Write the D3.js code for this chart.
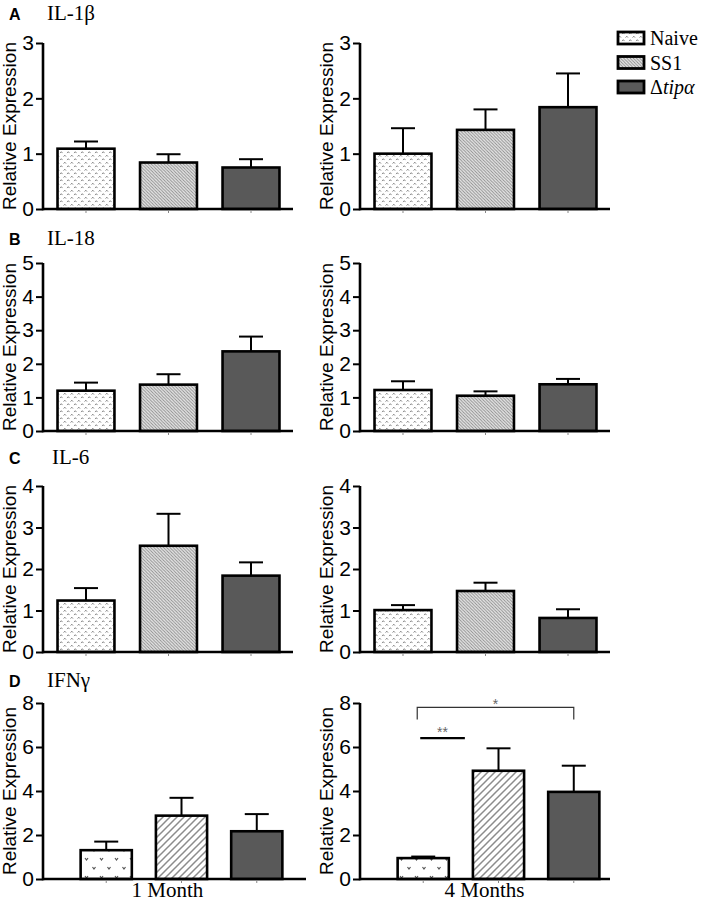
<!DOCTYPE html>
<html>
<head>
<meta charset="utf-8">
<script src="https://cdn.jsdelivr.net/npm/d3@7"></script>
<style>
  body { margin: 0; background: #fff; }
  svg { display: block; }
</style>
</head>
<body>
<svg id="viz"></svg>
<script>
var width = 706;
var height = 901;

// data
var groups = ["Naive", "SS1", "Δtipα"];
var cytokines = ["IL-1β", "IL-18", "IL-6", "IFNγ"];
var panelLetters = ["A", "B", "C", "D"];
var timepoints = ["1 Month", "4 Months"];
var yMax = [3, 5, 4, 8];
var yTicks = [[0, 1, 2, 3], [0, 1, 2, 3, 4, 5], [0, 1, 2, 3, 4], [0, 2, 4, 6, 8]];

var month1Mean = [[1.09, 0.84, 0.75], [1.20, 1.38, 2.37], [1.24, 2.56, 1.84], [1.31, 2.88, 2.17]];
var month1Err  = [[0.13, 0.15, 0.15], [0.24, 0.31, 0.44], [0.30, 0.77, 0.32], [0.39, 0.81, 0.78]];
var month4Mean = [[1.00, 1.43, 1.84], [1.22, 1.05, 1.39], [1.01, 1.47, 0.82], [0.95, 4.92, 3.96]];
var month4Err  = [[0.46, 0.37, 0.61], [0.26, 0.13, 0.16], [0.12, 0.20, 0.21], [0.07, 1.02, 1.19]];

// significance marks, IFNγ at 4 months
var sigMarks = [
  { from: 0, to: 2, label: "*", level: 7.8, bracket: true },
  { from: 0, to: 1, label: "**", level: 6.4, bracket: false }
];

// layout
var rowTop = [43, 263, 486, 703];
var rowBase = [209, 431, 652, 879];
var colX = [43, 360];

var svg = d3.select("#viz")
  .attr("width", width)
  .attr("height", height);

var defs = svg.append("defs");

// Naive: small caret dots (rows A-C)
var pNaive = defs.append("pattern")
  .attr("id", "naiveDots")
  .attr("patternUnits", "userSpaceOnUse")
  .attr("width", 7).attr("height", 7);
pNaive.append("rect").attr("width", 7).attr("height", 7).attr("fill", "#fff");
pNaive.append("path")
  .attr("d", "M0.6,2.6 L1.8,1.2 L3,2.6 M4.1,6.1 L5.3,4.7 L6.5,6.1")
  .attr("stroke", "#777").attr("stroke-width", 0.9).attr("fill", "none");

// Naive: sparse v marks (row D)
var pNaiveV = defs.append("pattern")
  .attr("id", "naiveV")
  .attr("patternUnits", "userSpaceOnUse")
  .attr("width", 15).attr("height", 18);
pNaiveV.append("rect").attr("width", 15).attr("height", 18).attr("fill", "#fff");
pNaiveV.append("path")
  .attr("d", "M2.5,3 L4,5 L5.5,3 M10,12 L11.5,14 L13,12")
  .attr("stroke", "#555").attr("stroke-width", 1.2).attr("fill", "none");

// SS1: dense back-diagonal hatch (rows A-C)
var pSS1 = defs.append("pattern")
  .attr("id", "ss1Hatch")
  .attr("patternUnits", "userSpaceOnUse")
  .attr("width", 3.2).attr("height", 3.2);
pSS1.append("rect").attr("width", 3.2).attr("height", 3.2).attr("fill", "#e6e6e6");
pSS1.append("path")
  .attr("d", "M-1,-1 L4.2,4.2 M-1,2.2 L1,4.2 M2.2,-1 L4.2,1")
  .attr("stroke", "#8a8a8a").attr("stroke-width", 0.9);

// SS1: wide forward-diagonal hatch (row D)
var pSS1D = defs.append("pattern")
  .attr("id", "ss1HatchD")
  .attr("patternUnits", "userSpaceOnUse")
  .attr("width", 7).attr("height", 7);
pSS1D.append("rect").attr("width", 7).attr("height", 7).attr("fill", "#fff");
pSS1D.append("path")
  .attr("d", "M-1,8 L8,-1 M-1,1 L1,-1 M6,8 L8,6")
  .attr("stroke", "#8c8c8c").attr("stroke-width", 1.5);

var tipColor = "#595959";

function fillFor(g, row) {
  if (g === 2) return tipColor;
  if (row === 3) return g === 0 ? "url(#naiveV)" : "url(#ss1HatchD)";
  return g === 0 ? "url(#naiveDots)" : "url(#ss1Hatch)";
}

function drawPanel(row, col) {
  var means = col === 0 ? month1Mean[row] : month4Mean[row];
  var errs = col === 0 ? month1Err[row] : month4Err[row];
  var x0 = colX[col];

  var y = d3.scaleLinear()
    .domain([0, yMax[row]])
    .range([rowBase[row], rowTop[row]]);

  var x = d3.scaleBand().domain(d3.range(3));
  var axisLen;
  if (row === 3) {
    x.range([x0, x0 + 277]).paddingInner(0.32).paddingOuter(0.5);
    axisLen = col === 0 ? 263 : 250;
  } else {
    x.range([x0, x0 + 251]).paddingInner(0.31).paddingOuter(0.176);
    axisLen = 250;
  }

  var g = svg.append("g");

  var data = means.map(function(m, i) {
    return { i: i, mean: m, err: errs[i] };
  });

  // error bars (upper only)
  var eb = g.selectAll(".err").data(data).enter().append("g");
  eb.append("line")
    .attr("x1", function(d) { return x(d.i) + x.bandwidth() / 2; })
    .attr("x2", function(d) { return x(d.i) + x.bandwidth() / 2; })
    .attr("y1", function(d) { return y(d.mean); })
    .attr("y2", function(d) { return y(d.mean + d.err); })
    .attr("stroke", "#000").attr("stroke-width", 2);
  eb.append("line")
    .attr("x1", function(d) { return x(d.i) + x.bandwidth() / 2 - 12; })
    .attr("x2", function(d) { return x(d.i) + x.bandwidth() / 2 + 12; })
    .attr("y1", function(d) { return y(d.mean + d.err); })
    .attr("y2", function(d) { return y(d.mean + d.err); })
    .attr("stroke", "#000").attr("stroke-width", 2);

  // bars
  g.selectAll(".bar").data(data).enter().append("rect")
    .attr("x", function(d) { return x(d.i); })
    .attr("width", x.bandwidth())
    .attr("y", function(d) { return y(d.mean); })
    .attr("height", function(d) { return y(0) - y(d.mean); })
    .attr("fill", function(d) { return fillFor(d.i, row); })
    .attr("stroke", "#000")
    .attr("stroke-width", 2.6);

  // x baseline with small ticks at bar centres
  g.append("line")
    .attr("x1", x0).attr("x2", x0 + axisLen)
    .attr("y1", y(0)).attr("y2", y(0))
    .attr("stroke", "#000").attr("stroke-width", 2.6);
  g.selectAll(".xt").data(data).enter().append("line")
    .attr("x1", function(d) { return x(d.i) + x.bandwidth() / 2; })
    .attr("x2", function(d) { return x(d.i) + x.bandwidth() / 2; })
    .attr("y1", y(0) + 1).attr("y2", y(0) + 4)
    .attr("stroke", "#888").attr("stroke-width", 1);

  // y axis
  var yAxis = d3.axisLeft(y)
    .tickValues(yTicks[row])
    .tickFormat(d3.format("d"))
    .tickSize(7).tickPadding(2).tickSizeOuter(0);
  var ya = g.append("g")
    .attr("transform", "translate(" + x0 + ",0)")
    .call(yAxis);
  ya.select(".domain").attr("stroke-width", 2.6).attr("d", "M0," + (y(0) + 1.3) + "V" + y(yMax[row]));
  ya.selectAll(".tick line").attr("stroke-width", 2);
  ya.selectAll(".tick text")
    .style("font-family", "'Liberation Sans', Arial, sans-serif")
    .style("font-size", "21px")
    .attr("fill", "#000");

  // y label
  g.append("text")
    .attr("transform", "translate(" + (x0 - 27) + "," + ((y(0) + y(yMax[row])) / 2) + ") rotate(-90)")
    .attr("text-anchor", "middle")
    .style("font-family", "'Liberation Sans', Arial, sans-serif")
    .style("font-size", "19px")
    .text("Relative Expression");

  // time label under bottom row
  if (row === 3) {
    g.append("text")
      .attr("x", x(1) + x.bandwidth() / 2 - 14)
      .attr("y", y(0) + 18)
      .attr("text-anchor", "middle")
      .style("font-family", "'Liberation Serif', 'Times New Roman', serif")
      .style("font-size", "21px")
      .text(timepoints[col]);
  }

  // significance
  if (row === 3 && col === 1) {
    sigMarks.forEach(function(s) {
      var cx1 = x(s.from) + x.bandwidth() / 2;
      var cx2 = x(s.to) + x.bandwidth() / 2;
      var yy = y(s.level);
      if (s.bracket) {
        g.append("path")
          .attr("d", "M" + (cx1 - 6) + "," + (yy + 12) + "V" + yy + "H" + cx2 + "V" + (yy + 12))
          .attr("fill", "none").attr("stroke", "#333").attr("stroke-width", 1.2);
        g.append("text")
          .attr("x", (cx1 - 6 + cx2) / 2)
          .attr("y", yy + 2)
          .attr("text-anchor", "middle")
          .style("font-family", "'Liberation Sans', Arial, sans-serif")
          .style("font-size", "14px")
          .attr("fill", "#666")
          .text(s.label);
      } else {
        var ex = (x(s.from) + x.bandwidth() + x(s.to)) / 2 + 4;
        g.append("line")
          .attr("x1", cx1 - 3).attr("x2", ex)
          .attr("y1", yy).attr("y2", yy)
          .attr("stroke", "#000").attr("stroke-width", 2.2);
        g.append("text")
          .attr("x", (cx1 - 3 + ex) / 2)
          .attr("y", yy - 1)
          .attr("text-anchor", "middle")
          .style("font-family", "'Liberation Sans', Arial, sans-serif")
          .style("font-size", "14px")
          .attr("fill", "#666")
          .text(s.label);
      }
    });
  }
}

for (var r = 0; r < 4; r++) {
  drawPanel(r, 0);
  drawPanel(r, 1);

  // panel letter and cytokine name
  var titleY = [20, 245, 464, 687][r];
  svg.append("text")
    .attr("x", 9).attr("y", titleY)
    .style("font-family", "'Liberation Sans', Arial, sans-serif")
    .style("font-weight", "bold")
    .style("font-size", "16px")
    .text(panelLetters[r]);
  svg.append("text")
    .attr("x", r === 2 ? 52 : 47).attr("y", titleY)
    .style("font-family", "'Liberation Serif', 'Times New Roman', serif")
    .style("font-size", "21px")
    .text(cytokines[r]);
}

// legend
var legend = svg.append("g").attr("transform", "translate(618,28)");
var legendFills = ["url(#naiveDots)", "url(#ss1Hatch)", tipColor];
var items = legend.selectAll(".item").data(groups).enter().append("g")
  .attr("transform", function(d, i) { return "translate(0," + (i * 24.5) + ")"; });
items.append("rect")
  .attr("x", 0).attr("y", 4)
  .attr("width", 26).attr("height", 12)
  .attr("fill", function(d, i) { return legendFills[i]; })
  .attr("stroke", "#000").attr("stroke-width", 2.8);
var lt = items.append("text")
  .attr("x", 32).attr("y", 17)
  .style("font-family", "'Liberation Serif', 'Times New Roman', serif")
  .style("font-size", "20px");
lt.each(function(d) {
  var t = d3.select(this);
  if (d === "Δtipα") {
    t.append("tspan").text("Δ");
    t.append("tspan").style("font-style", "italic").text("tipα");
  } else {
    t.text(d);
  }
});
</script>
</body>
</html>
